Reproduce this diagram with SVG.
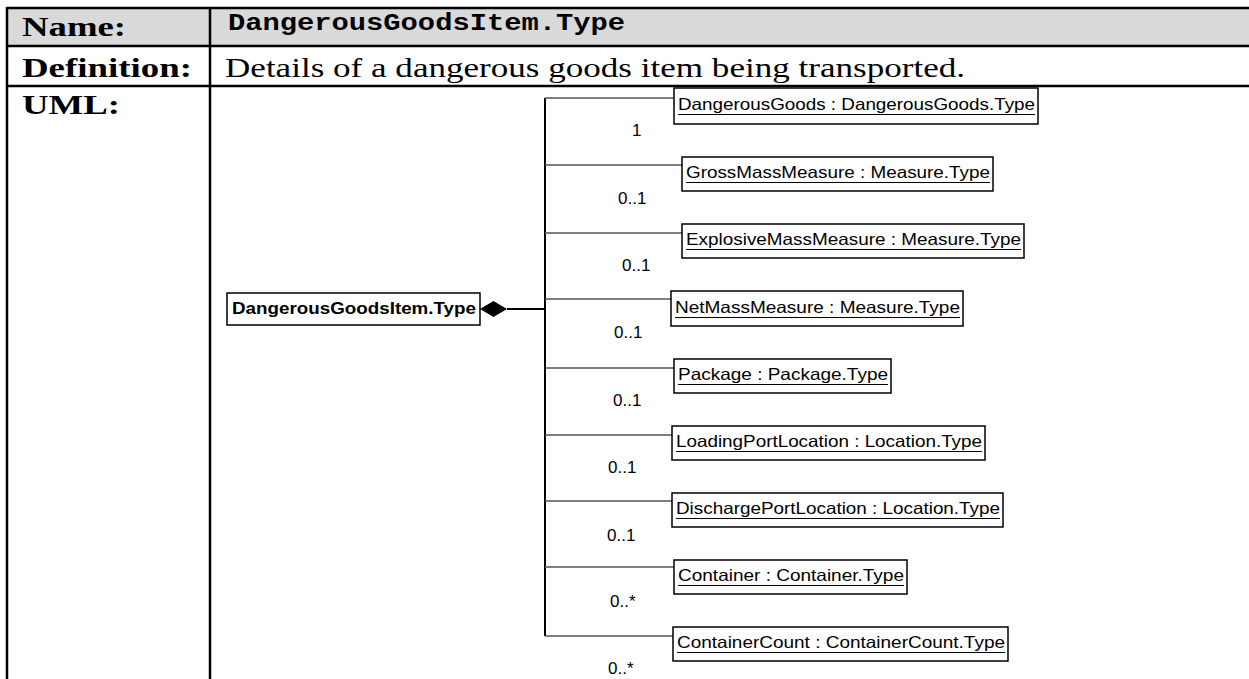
<svg xmlns="http://www.w3.org/2000/svg" width="1249" height="679" viewBox="0 0 1249 679">
<style>
.lbl{font-family:"Liberation Serif","Times New Roman",serif;font-size:28px;font-weight:bold;fill:#000}
.def{font-family:"Liberation Serif","Times New Roman",serif;font-size:28px;fill:#000}
.hdr{font-family:"Liberation Mono","Courier New",monospace;font-size:23px;font-weight:bold;fill:#000}
.grid{stroke:#000;stroke-width:2.5;fill:none}
.box{fill:#fff;stroke:#000;stroke-width:1.5}
.bt{font-family:"Liberation Sans",Arial,sans-serif;font-size:16.5px;fill:#000}
.btb{font-family:"Liberation Sans",Arial,sans-serif;font-size:16.5px;font-weight:bold;fill:#000}
.ul{stroke:#000;stroke-width:1.2}
.mult{font-family:"Liberation Sans",Arial,sans-serif;font-size:17px;fill:#000}
.br{stroke:#555;stroke-width:1.5;fill:none}
.trunk{stroke:#000;stroke-width:2;fill:none}
</style>
<rect x="0" y="0" width="1249" height="679" fill="#fff"/>
<g id="table">
<rect x="7" y="8" width="1242" height="38" fill="#d9d9d9"/>
<line class="grid" x1="7" y1="8" x2="1249" y2="8"/>
<line class="grid" x1="7" y1="46" x2="1249" y2="46"/>
<line class="grid" x1="7" y1="86" x2="1249" y2="86"/>
<line class="grid" x1="7" y1="7" x2="7" y2="679"/>
<line class="grid" x1="210" y1="7" x2="210" y2="679"/>
<text class="lbl" x="22" y="36" textLength="104" lengthAdjust="spacingAndGlyphs">Name:</text>
<text class="lbl" x="22" y="77" textLength="170" lengthAdjust="spacingAndGlyphs">Definition:</text>
<text class="lbl" x="22" y="114" textLength="98" lengthAdjust="spacingAndGlyphs">UML:</text>
<text class="hdr" x="228" y="30" textLength="397" lengthAdjust="spacingAndGlyphs">DangerousGoodsItem.Type</text>
<text class="def" x="225" y="77" textLength="740" lengthAdjust="spacingAndGlyphs">Details of a dangerous goods item being transported.</text>
</g>
<g id="connectors">
<line class="trunk" x1="507" y1="309" x2="545" y2="309"/>
<line class="trunk" x1="545" y1="98" x2="545" y2="636"/>
<line class="br" x1="545" y1="98" x2="674" y2="98"/>
<line class="br" x1="545" y1="165" x2="682" y2="165"/>
<line class="br" x1="545" y1="233" x2="682" y2="233"/>
<line class="br" x1="545" y1="299" x2="671" y2="299"/>
<line class="br" x1="545" y1="368" x2="674" y2="368"/>
<line class="br" x1="545" y1="435" x2="672" y2="435"/>
<line class="br" x1="545" y1="501" x2="672" y2="501"/>
<line class="br" x1="545" y1="567" x2="674" y2="567"/>
<line class="br" x1="545" y1="636" x2="673" y2="636"/>
<polygon points="480,309 493.5,301 507,309 493.5,317" fill="#000"/>
<text class="mult" x="632" y="136">1</text>
<text class="mult" x="618" y="204">0..1</text>
<text class="mult" x="622" y="271">0..1</text>
<text class="mult" x="614" y="338">0..1</text>
<text class="mult" x="613" y="406">0..1</text>
<text class="mult" x="608" y="473">0..1</text>
<text class="mult" x="607" y="541">0..1</text>
<text class="mult" x="610" y="607">0..*</text>
<text class="mult" x="608" y="674">0..*</text>
</g>
<g id="DangerousGoodsItem">
<rect class="box" x="227" y="293" width="253" height="32"/>
<text class="btb" x="232" y="314" textLength="244" lengthAdjust="spacingAndGlyphs">DangerousGoodsItem.Type</text>
</g>
<g id="DangerousGoods">
<rect class="box" x="674" y="88" width="364" height="36"/>
<text class="bt" x="678" y="110" textLength="357" lengthAdjust="spacingAndGlyphs">DangerousGoods : DangerousGoods.Type</text>
<line class="ul" x1="678" y1="114.5" x2="1035" y2="114.5"/>
</g>
<g id="GrossMassMeasure">
<rect class="box" x="682" y="157" width="311" height="34"/>
<text class="bt" x="686" y="178" textLength="304" lengthAdjust="spacingAndGlyphs">GrossMassMeasure : Measure.Type</text>
<line class="ul" x1="686" y1="182.5" x2="990" y2="182.5"/>
</g>
<g id="ExplosiveMassMeasure">
<rect class="box" x="682" y="224" width="342" height="34"/>
<text class="bt" x="686" y="245" textLength="335" lengthAdjust="spacingAndGlyphs">ExplosiveMassMeasure : Measure.Type</text>
<line class="ul" x1="686" y1="249.5" x2="1021" y2="249.5"/>
</g>
<g id="NetMassMeasure">
<rect class="box" x="671" y="291" width="292" height="35"/>
<text class="bt" x="675" y="313" textLength="285" lengthAdjust="spacingAndGlyphs">NetMassMeasure : Measure.Type</text>
<line class="ul" x1="675" y1="317.5" x2="960" y2="317.5"/>
</g>
<g id="Package">
<rect class="box" x="674" y="359" width="217" height="34"/>
<text class="bt" x="678" y="380" textLength="210" lengthAdjust="spacingAndGlyphs">Package : Package.Type</text>
<line class="ul" x1="678" y1="384.5" x2="888" y2="384.5"/>
</g>
<g id="LoadingPortLocation">
<rect class="box" x="672" y="426" width="313" height="34"/>
<text class="bt" x="676" y="447" textLength="306" lengthAdjust="spacingAndGlyphs">LoadingPortLocation : Location.Type</text>
<line class="ul" x1="676" y1="451.5" x2="982" y2="451.5"/>
</g>
<g id="DischargePortLocation">
<rect class="box" x="672" y="493" width="331" height="34"/>
<text class="bt" x="676" y="514" textLength="324" lengthAdjust="spacingAndGlyphs">DischargePortLocation : Location.Type</text>
<line class="ul" x1="676" y1="518.5" x2="1000" y2="518.5"/>
</g>
<g id="Container">
<rect class="box" x="674" y="560" width="233" height="34"/>
<text class="bt" x="678" y="581" textLength="226" lengthAdjust="spacingAndGlyphs">Container : Container.Type</text>
<line class="ul" x1="678" y1="585.5" x2="904" y2="585.5"/>
</g>
<g id="ContainerCount">
<rect class="box" x="673" y="627" width="335" height="34"/>
<text class="bt" x="677" y="648" textLength="328" lengthAdjust="spacingAndGlyphs">ContainerCount : ContainerCount.Type</text>
<line class="ul" x1="677" y1="652.5" x2="1005" y2="652.5"/>
</g>
</svg>
